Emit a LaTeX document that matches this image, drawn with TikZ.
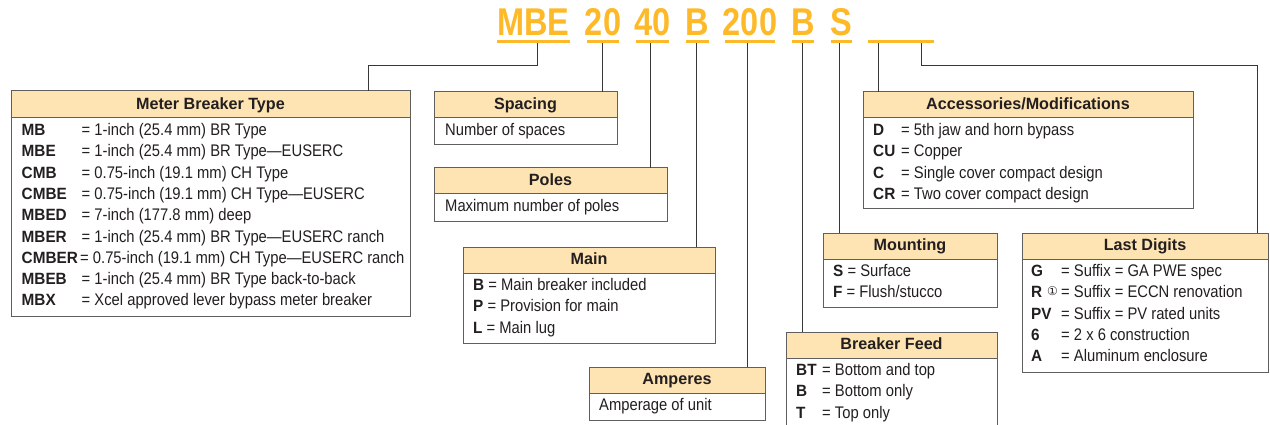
\documentclass[tikz,border=0pt]{standalone}
\usepackage{fontspec}
\setmainfont{Liberation Sans}[FakeStretch=0.88]
\newfontfamily\hdf{Liberation Sans}[FakeStretch=0.99]
\newfontfamily\kyf{Liberation Sans}[FakeStretch=0.94]
\newfontfamily\cdf{Liberation Sans}[FakeStretch=0.84]
\newfontfamily\symf{DejaVu Sans}
\definecolor{codec}{RGB}{253,185,39}
\definecolor{hdrc}{RGB}{254,228,178}
\definecolor{boxc}{RGB}{95,95,95}
\definecolor{linec}{RGB}{55,55,55}
\definecolor{txtc}{RGB}{35,31,32}
\tikzset{
  conn/.style={draw=linec, line width=1pt},
  boxbody/.style={draw=boxc, line width=1pt, fill=white, inner sep=0pt, outer sep=0pt},
  boxhead/.style={draw=boxc, line width=1pt, fill=hdrc, inner sep=0pt, outer sep=0pt},
  title/.style={anchor=base, inner sep=0pt, font=\hdf\bfseries\fontsize{16.3}{18}\selectfont, text=txtc},
  keyt/.style={anchor=base west, inner sep=0pt, font=\kyf\bfseries\fontsize{16.3}{18}\selectfont, text=txtc},
  valt/.style={anchor=base west, inner sep=0pt, font=\fontsize{16.8}{18}\selectfont, text=txtc},
  code/.style={anchor=base, inner sep=0pt, font=\cdf\bfseries\fontsize{38.7}{40}\selectfont, text=codec},
  uline/.style={fill=codec, inner sep=0pt, outer sep=0pt, minimum height=3pt, anchor=north west},
}
\newcommand\infobox[7]{%
  \node[boxbody, minimum width={#4-#2}, minimum height={#6-#3}, anchor=north west] (#1) at (#2,#3) {};
  \node[boxhead, minimum width={#4-#2}, minimum height={#5-#3}, anchor=north west] (#1-h) at (#2,#3) {};
  \node[title] (#1-t) at ({(#2+#4)/2},{#5-8.5}) {#7};
}
\newcommand\kvrow[6]{%
  \node[keyt] (#1k) at (#2,#4) {#5};
  \node[valt] (#1v) at (#3,#4) {= #6};
}
\newcommand\kyb[1]{{\kyf\bfseries\fontsize{16.3}{18}\selectfont #1}}
\begin{document}
\begin{tikzpicture}[x=1pt,y=-1pt]
\useasboundingbox (0,0) rectangle (1270,425);
\clip (0,0) rectangle (1270,425);

% code letters
\node[code] (c1) at (533.5,36) {MBE};
\node[code] (c2) at (603,36) {20};
\node[code] (c3) at (652.5,36) {40};
\node[code] (c4) at (697.5,36) {B};
\node[code] (c5) at (750,36) {200};
\node[code] (c6) at (803,36) {B};
\node[code] (c7) at (841.5,36) {S};
\node[uline, minimum width=73] (u1) at (497,40.5) {};
\node[uline, minimum width=32] (u2) at (587,40.5) {};
\node[uline, minimum width=33] (u3) at (636,40.5) {};
\node[uline, minimum width=23] (u4) at (686,40.5) {};
\node[uline, minimum width=50] (u5) at (725,40.5) {};
\node[uline, minimum width=22] (u6) at (792,40.5) {};
\node[uline, minimum width=21] (u7) at (831,40.5) {};
\node[uline, minimum width=66] (u8) at (868,40.5) {};

% boxes
\infobox{mbt}{11}{91}{410}{118}{316}{Meter Breaker Type}
\infobox{spc}{434}{92}{617}{118}{145}{Spacing}
\infobox{pol}{434}{168}{667}{194}{221}{Poles}
\infobox{mai}{463}{247}{715}{273}{343}{Main}
\infobox{amp}{589}{367}{765}{393}{420}{Amperes}
\infobox{acc}{863}{92}{1193}{118}{209}{Accessories/Modifications}
\infobox{mnt}{823}{233}{997}{259}{307}{Mounting}
\infobox{bkf}{786}{332}{997}{358}{432}{Breaker Feed}
\infobox{lst}{1022}{233}{1268}{259}{372}{Last Digits}

% connectors
\coordinate (j1) at (368,66);
\coordinate (j2) at (1257,66);
\draw[conn] (u1.south -| 537,0) |- (j1) -- (j1 |- mbt.north);
\draw[conn] (u2.south -| 602,0) -- (602,0 |- spc.north);
\draw[conn] (u3.south -| 650,0) -- (650,0 |- pol.north);
\draw[conn] (u4.south -| 696,0) -- (696,0 |- mai.north);
\draw[conn] (u5.south -| 747,0) -- (747,0 |- amp.north);
\draw[conn] (u6.south -| 802,0) -- (802,0 |- bkf.north);
\draw[conn] (u7.south -| 839,0) -- (839,0 |- mnt.north);
\draw[conn] (u8.south -| 878,0) -- (878,0 |- acc.north);
\draw[conn] (u8.south -| 921,0) |- (j2) -- (j2 |- lst.north);

% Meter Breaker Type rows
\kvrow{m1}{21.5}{81.5}{135.5}{MB}{1-inch (25.4 mm) BR Type}
\kvrow{m2}{21.5}{81.5}{156.8}{MBE}{1-inch (25.4 mm) BR Type---EUSERC}
\kvrow{m3}{21.5}{81.5}{178.1}{CMB}{0.75-inch (19.1 mm) CH Type}
\kvrow{m4}{21.5}{81.5}{199.4}{CMBE}{0.75-inch (19.1 mm) CH Type---EUSERC}
\kvrow{m5}{21.5}{81.5}{220.7}{MBED}{7-inch (177.8 mm) deep}
\kvrow{m6}{21.5}{81.5}{242.0}{MBER}{1-inch (25.4 mm) BR Type---EUSERC ranch}
\kvrow{m7}{21.5}{80}{263.3}{CMBER}{0.75-inch (19.1 mm) CH Type---EUSERC ranch}
\kvrow{m8}{21.5}{81.5}{284.6}{MBEB}{1-inch (25.4 mm) BR Type back-to-back}
\kvrow{m9}{21.5}{81.5}{305.9}{MBX}{Xcel approved lever bypass meter breaker}

% single line boxes
\node[valt] (spc-b) at (445,135.5) {Number of spaces};
\node[valt] (pol-b) at (445,211.5) {Maximum number of poles};
\node[valt] (amp-b) at (599,410.5) {Amperage of unit};

% Main
\node[valt] (a1) at (473,290.5) {\kyb{B} = Main breaker included};
\node[valt] (a2) at (473,311.8) {\kyb{P} = Provision for main};
\node[valt] (a3) at (473,333.1) {\kyb{L} = Main lug};

% Accessories
\kvrow{x1}{873}{901}{135.5}{D}{5th jaw and horn bypass}
\kvrow{x2}{873}{901}{156.8}{CU}{Copper}
\kvrow{x3}{873}{901}{178.1}{C}{Single cover compact design}
\kvrow{x4}{873}{901}{199.4}{CR}{Two cover compact design}

% Mounting
\node[valt] (s1) at (833,276.5) {\kyb{S} = Surface};
\node[valt] (s2) at (833,297.8) {\kyb{F} = Flush/stucco};

% Breaker Feed
\kvrow{f1}{796}{822}{375.5}{BT}{Bottom and top}
\kvrow{f2}{796}{822}{396.8}{B}{Bottom only}
\kvrow{f3}{796}{822}{418.1}{T}{Top only}

% Last Digits
\kvrow{l1}{1031}{1061}{276.5}{G}{Suffix = GA PWE spec}
\kvrow{l2}{1031}{1061}{297.8}{R}{Suffix = ECCN renovation}
\node[anchor=base west, inner sep=0pt, font=\symf\fontsize{12}{12}\selectfont, text=txtc] (l2n) at (1047,295) {①};
\kvrow{l3}{1031}{1061}{319.1}{PV}{Suffix = PV rated units}
\kvrow{l4}{1031}{1061}{340.4}{6}{2 x 6 construction}
\kvrow{l5}{1031}{1061}{361.7}{A}{Aluminum enclosure}
\end{tikzpicture}
\end{document}
